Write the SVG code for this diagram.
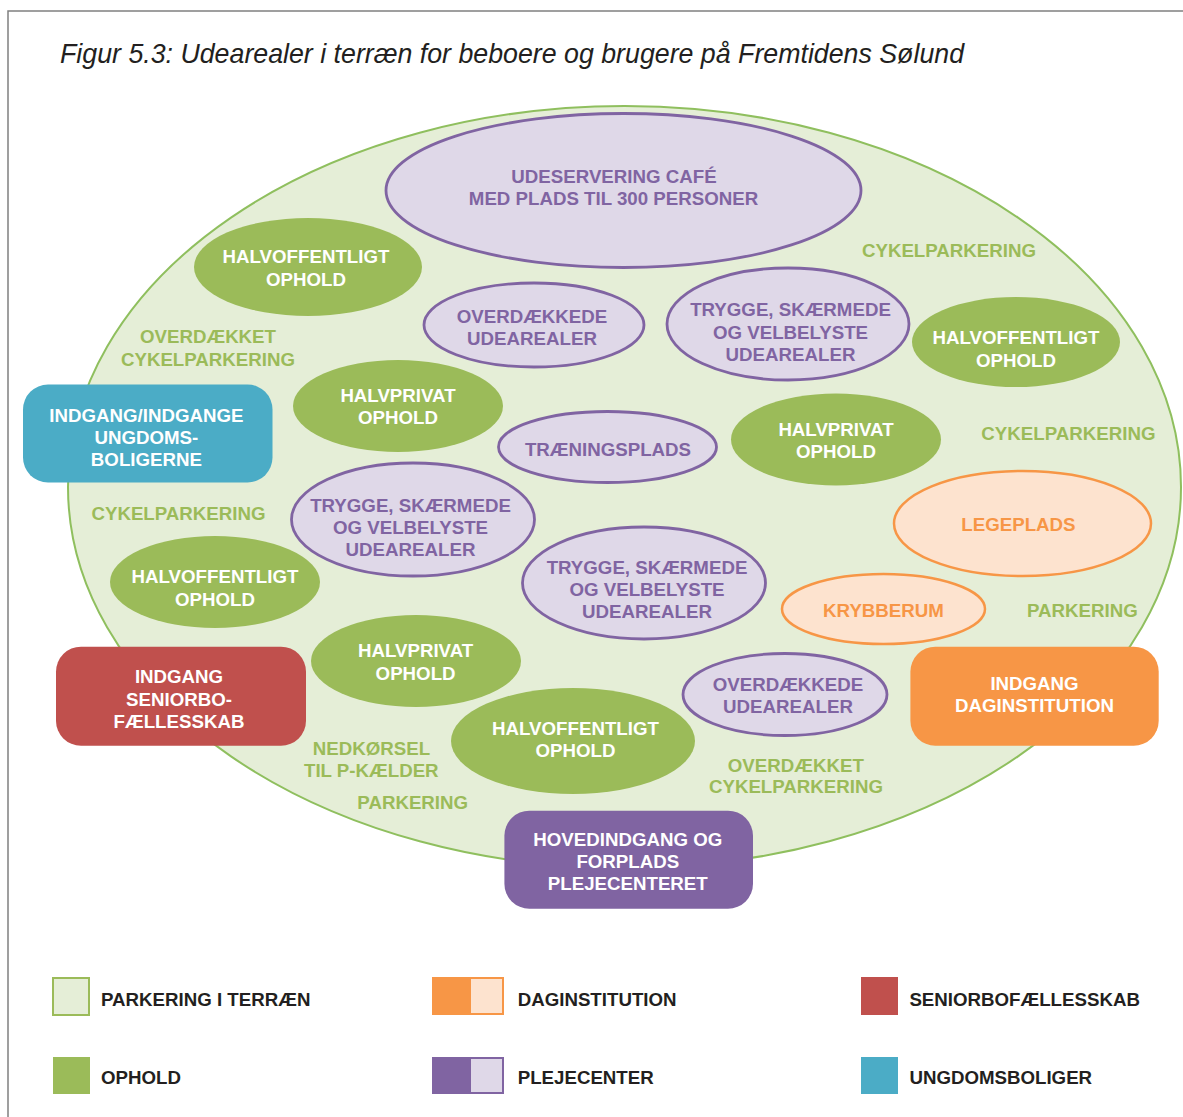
<svg xmlns="http://www.w3.org/2000/svg" width="1183" height="1117" viewBox="0 0 1183 1117">
<style>
text{font-family:"Liberation Sans",Arial,sans-serif;font-weight:bold;font-size:18.7px;text-anchor:middle}
.title{font-weight:normal;font-style:italic;font-size:26.75px;text-anchor:start;fill:#231f20}
.w{fill:#ffffff}
.p{fill:#8064a2}
.o{fill:#f79646}
.g{fill:#9bbb59}
.lg{fill:#231f20;text-anchor:start}
.gE{fill:#9bbb59}
.pE{fill:#dfd8e8;stroke:#8064a2;stroke-width:2.8}
.oE{fill:#fde3cf;stroke:#f79646;stroke-width:2.5}
</style>
<rect width="1183" height="1117" fill="#ffffff"/>
<path d="M8 1117 V11 H1183" fill="none" stroke="#808080" stroke-width="1.5"/>
<text class="title" x="60" y="62.5">Figur 5.3: Udearealer i terræn for beboere og brugere på Fremtidens Sølund</text>

<g id="terrain">
<ellipse cx="624.5" cy="487" rx="556.5" ry="381" fill="#e5eed7" stroke="#8fbf5e" stroke-width="2"/>
</g>

<g id="labels">
<text class="g" x="949" y="257.3">CYKELPARKERING</text>
<text class="g" x="208" y="343.3">OVERDÆKKET</text>
<text class="g" x="208" y="365.7">CYKELPARKERING</text>
<text class="g" x="178.5" y="520">CYKELPARKERING</text>
<text class="g" x="1068.4" y="440">CYKELPARKERING</text>
<text class="g" x="1082.4" y="616.7">PARKERING</text>
<text class="g" x="371.5" y="755">NEDKØRSEL</text>
<text class="g" x="371.3" y="776.7">TIL P-KÆLDER</text>
<text class="g" x="412.7" y="809">PARKERING</text>
<text class="g" x="795.8" y="771.7">OVERDÆKKET</text>
<text class="g" x="796" y="792.7">CYKELPARKERING</text>
</g>

<g id="cafe">
<ellipse class="pE" cx="623.5" cy="190.5" rx="237.5" ry="77"/>
<text class="p" x="614" y="182.5">UDESERVERING CAFÉ</text>
<text class="p" x="613.5" y="205">MED PLADS TIL 300 PERSONER</text>
</g>

<g id="halvoffentligt1">
<ellipse class="gE" cx="308" cy="267" rx="114" ry="49"/>
<text class="w" x="306" y="263.3">HALVOFFENTLIGT</text>
<text class="w" x="306" y="285.5">OPHOLD</text>
</g>

<g id="halvprivat1">
<ellipse class="gE" cx="398" cy="406" rx="105" ry="46"/>
<text class="w" x="398" y="401.7">HALVPRIVAT</text>
<text class="w" x="398" y="424.3">OPHOLD</text>
</g>

<g id="halvoffentligt2">
<ellipse class="gE" cx="215" cy="582" rx="105" ry="46"/>
<text class="w" x="215" y="583.3">HALVOFFENTLIGT</text>
<text class="w" x="215" y="605.7">OPHOLD</text>
</g>

<g id="halvprivat2">
<ellipse class="gE" cx="416" cy="661" rx="105" ry="46"/>
<text class="w" x="415.6" y="657.3">HALVPRIVAT</text>
<text class="w" x="415.6" y="679.5">OPHOLD</text>
</g>

<g id="halvoffentligt3">
<ellipse class="gE" cx="573" cy="741" rx="122" ry="53"/>
<text class="w" x="575.5" y="735">HALVOFFENTLIGT</text>
<text class="w" x="575.5" y="757.3">OPHOLD</text>
</g>

<g id="halvoffentligt4">
<ellipse class="gE" cx="1016" cy="342" rx="104" ry="45"/>
<text class="w" x="1016" y="344">HALVOFFENTLIGT</text>
<text class="w" x="1016" y="366.5">OPHOLD</text>
</g>

<g id="halvprivat3">
<ellipse class="gE" cx="836" cy="439.5" rx="105" ry="46"/>
<text class="w" x="836" y="435.7">HALVPRIVAT</text>
<text class="w" x="836" y="457.7">OPHOLD</text>
</g>

<g id="overdaekkede1">
<ellipse class="pE" cx="534" cy="325" rx="110" ry="42"/>
<text class="p" x="532" y="322.7">OVERDÆKKEDE</text>
<text class="p" x="532" y="344.5">UDEAREALER</text>
</g>

<g id="trygge1">
<ellipse class="pE" cx="788" cy="324" rx="121" ry="56"/>
<text class="p" x="790.5" y="316">TRYGGE, SKÆRMEDE</text>
<text class="p" x="790.5" y="338.8">OG VELBELYSTE</text>
<text class="p" x="790.5" y="361">UDEAREALER</text>
</g>

<g id="traeningsplads">
<ellipse class="pE" cx="607.5" cy="447" rx="109" ry="35.5"/>
<text class="p" x="608" y="456">TRÆNINGSPLADS</text>
</g>

<g id="trygge2">
<ellipse class="pE" cx="413" cy="519.5" rx="121.5" ry="56.5"/>
<text class="p" x="410.5" y="511.7">TRYGGE, SKÆRMEDE</text>
<text class="p" x="410.5" y="533.8">OG VELBELYSTE</text>
<text class="p" x="410.5" y="556">UDEAREALER</text>
</g>

<g id="trygge3">
<ellipse class="pE" cx="644" cy="583" rx="121.5" ry="56"/>
<text class="p" x="647" y="573.5">TRYGGE, SKÆRMEDE</text>
<text class="p" x="647" y="596">OG VELBELYSTE</text>
<text class="p" x="647" y="618.3">UDEAREALER</text>
</g>

<g id="overdaekkede2">
<ellipse class="pE" cx="785" cy="694.5" rx="102" ry="41"/>
<text class="p" x="788" y="690.7">OVERDÆKKEDE</text>
<text class="p" x="788" y="713.3">UDEAREALER</text>
</g>

<g id="legeplads">
<ellipse class="oE" cx="1022.5" cy="523.5" rx="128.5" ry="52.5"/>
<text class="o" x="1018.4" y="530.7">LEGEPLADS</text>
</g>

<g id="krybberum">
<ellipse class="oE" cx="883.5" cy="609" rx="101.5" ry="35"/>
<text class="o" x="883.5" y="616.7">KRYBBERUM</text>
</g>

<g id="indgang-ungdom">
<rect x="23" y="384.5" width="249.5" height="98" rx="25" fill="#4bacc6"/>
<text class="w" x="146.4" y="421.7">INDGANG/INDGANGE</text>
<text class="w" x="146.4" y="444">UNGDOMS-</text>
<text class="w" x="146.4" y="465.8">BOLIGERNE</text>
</g>

<g id="indgang-senior">
<rect x="56" y="646.7" width="250" height="99" rx="25" fill="#c0504d"/>
<text class="w" x="179" y="682.7">INDGANG</text>
<text class="w" x="179" y="705.5">SENIORBO-</text>
<text class="w" x="179" y="727.7">FÆLLESSKAB</text>
</g>

<g id="hovedindgang">
<rect x="504.4" y="810.7" width="248.6" height="98" rx="25" fill="#8064a2"/>
<text class="w" x="627.8" y="846">HOVEDINDGANG OG</text>
<text class="w" x="627.8" y="868.3">FORPLADS</text>
<text class="w" x="627.8" y="890">PLEJECENTERET</text>
</g>

<g id="indgang-dag">
<rect x="910.4" y="646.7" width="248.3" height="99" rx="25" fill="#f79646"/>
<text class="w" x="1034.5" y="690">INDGANG</text>
<text class="w" x="1034.5" y="711.7">DAGINSTITUTION</text>
</g>

<g id="legend">
<rect x="53" y="978" width="36" height="37" fill="#e5eed7" stroke="#9bbb59" stroke-width="2"/>
<text class="lg" x="101" y="1006">PARKERING I TERRÆN</text>
<rect x="432" y="977" width="37" height="38" fill="#f79646"/>
<rect x="470" y="978" width="33" height="36" fill="#fde3cf" stroke="#f79646" stroke-width="2"/>
<text class="lg" x="517.7" y="1006">DAGINSTITUTION</text>
<rect x="861" y="977" width="37" height="38" fill="#c0504d"/>
<text class="lg" x="909.4" y="1006">SENIORBOFÆLLESSKAB</text>
<rect x="53" y="1057" width="37" height="37" fill="#9bbb59"/>
<text class="lg" x="101" y="1084">OPHOLD</text>
<rect x="432" y="1057" width="37" height="37" fill="#8064a2"/>
<rect x="470" y="1058" width="33" height="35" fill="#dfd8e8" stroke="#8064a2" stroke-width="2"/>
<text class="lg" x="517.7" y="1084">PLEJECENTER</text>
<rect x="861" y="1057" width="37" height="37" fill="#4bacc6"/>
<text class="lg" x="909.4" y="1084">UNGDOMSBOLIGER</text>
</g>

<g id="connectors"></g>
</svg>
